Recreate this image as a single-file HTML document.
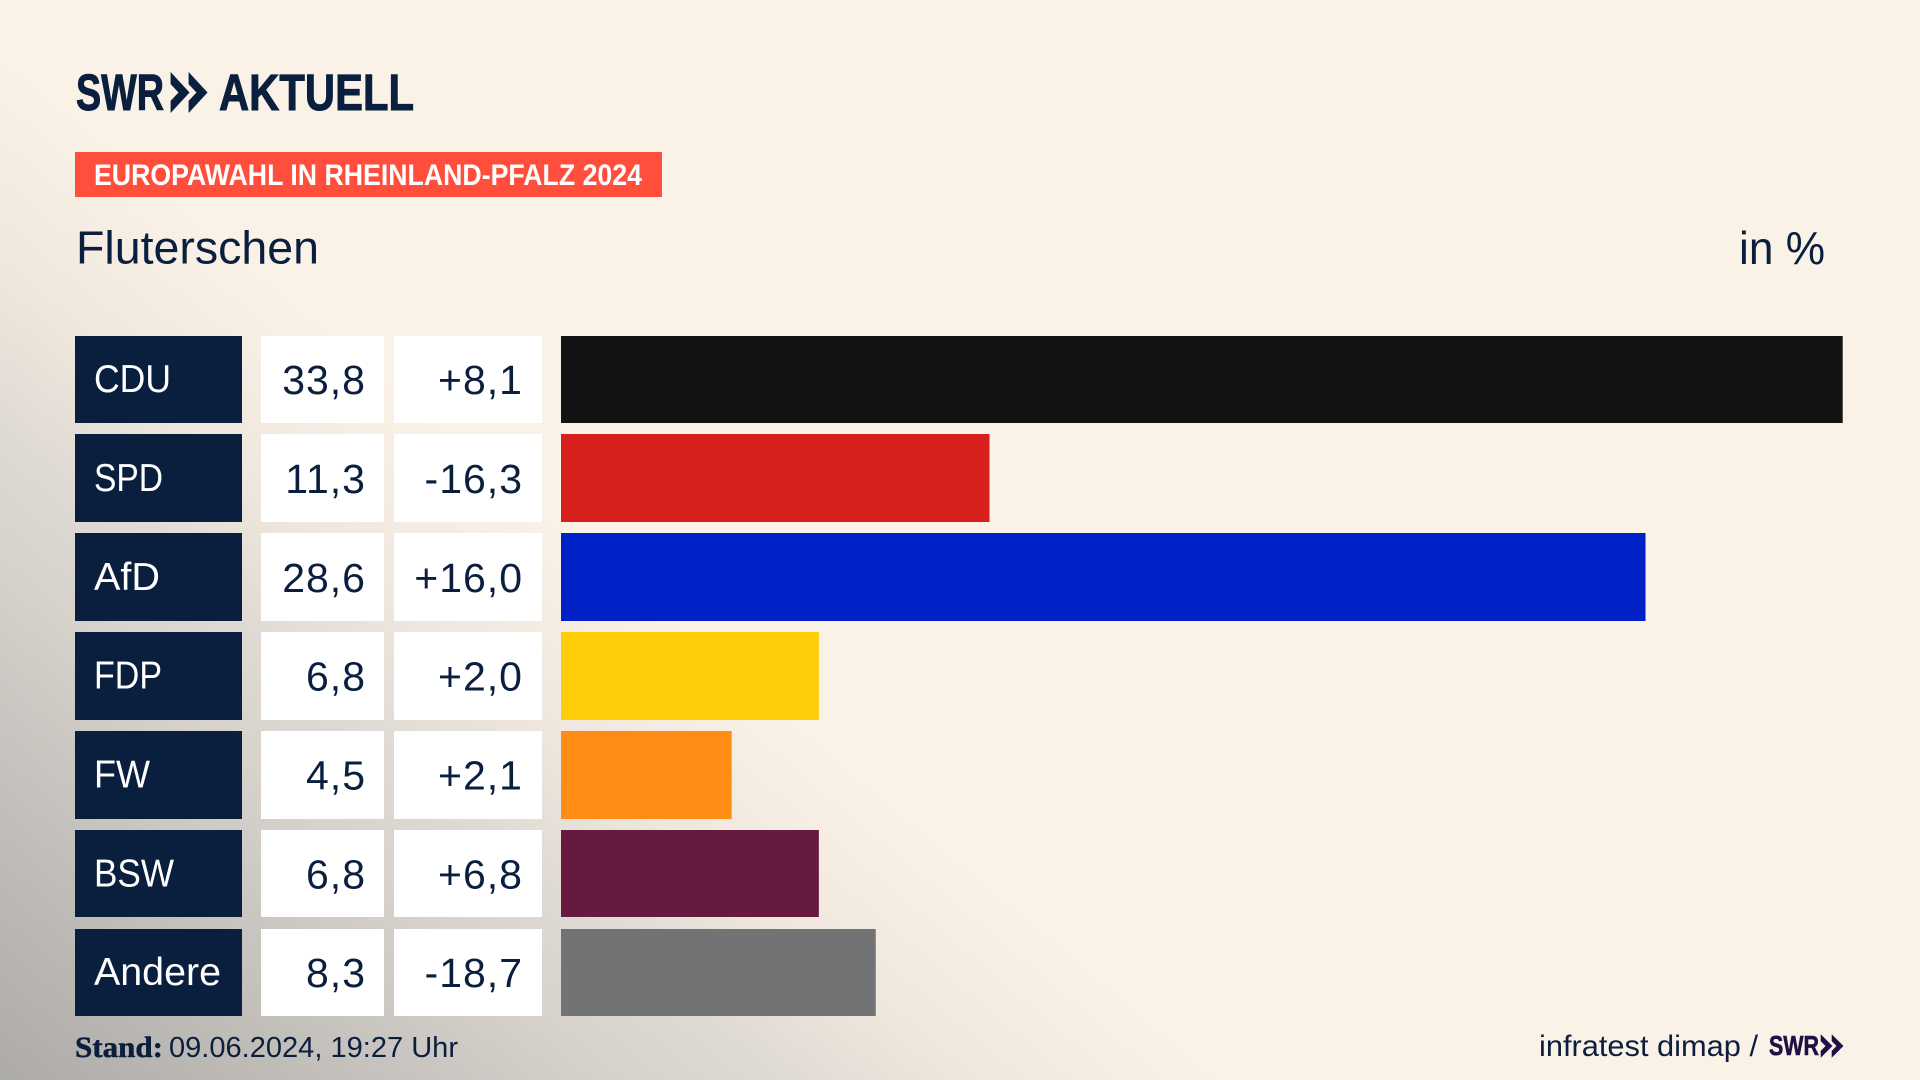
<!DOCTYPE html>
<html lang="de">
<head>
<meta charset="utf-8">
<title>Europawahl in Rheinland-Pfalz 2024 – Fluterschen</title>
<style>
html,body{margin:0;padding:0;width:1920px;height:1080px;overflow:hidden;background:#faf1e7}
#bg{position:absolute;left:0;top:0;width:1920px;height:1080px;
background:linear-gradient(220deg,#faf1e7 0%,#faf1e7 62%,#efe7dd 70%,#ded9d3 76%,#d6d1cb 81%,#cac6c1 86%,#adaba8 100%);}
svg{position:absolute;left:0;top:0;font-family:"Liberation Sans",sans-serif}
</style>
</head>
<body>
<div id="bg"></div>
<svg id="chart" width="1920" height="1080" viewBox="0 0 1920 1080">
  <g fill="#0a1f3e" stroke="#0a1f3e">
    <text x="76" y="110" font-size="51" font-weight="700" stroke-width="1" textLength="88" lengthAdjust="spacingAndGlyphs">SWR</text>
    <polygon points="171,73 189,92.5 171,112 171,101 179,92.5 171,84" stroke-width="0.8"></polygon>
    <polygon points="189,73 207,92.5 189,112 189,101 197,92.5 189,84" stroke-width="0.8"></polygon>
    <text x="219" y="110" font-size="51" font-weight="700" stroke-width="1" textLength="195" lengthAdjust="spacingAndGlyphs">AKTUELL</text>
  </g>
  <rect x="75" y="152" width="587" height="45" fill="#ff4f3c"></rect>
  <text x="94" y="185" font-size="30" font-weight="700" fill="#fff" textLength="548" lengthAdjust="spacingAndGlyphs">EUROPAWAHL IN RHEINLAND-PFALZ 2024</text>
  <text x="76" y="263.5" font-size="46" fill="#0a1f3e" textLength="243" lengthAdjust="spacingAndGlyphs">Fluterschen</text>
  <text x="1739" y="264" font-size="46" fill="#0a1f3e" textLength="86" lengthAdjust="spacingAndGlyphs">in %</text>
  <g id="rows"></g>
  <text x="75" y="1057" font-family="Liberation Serif, serif" font-size="30" font-weight="700" fill="#0a1f3e" stroke="#0a1f3e" stroke-width="0.5" textLength="88" lengthAdjust="spacingAndGlyphs">Stand:</text>
  <text x="169" y="1057" font-size="29" fill="#0a1f3e" textLength="289" lengthAdjust="spacingAndGlyphs">09.06.2024, 19:27 Uhr</text>
  <text x="1539" y="1056" font-size="30" fill="#0a1f3e" textLength="219" lengthAdjust="spacingAndGlyphs">infratest dimap /</text>
  <g fill="#1f1046" stroke="#1f1046">
    <text x="1769" y="1055" font-size="28" font-weight="700" stroke-width="0.6" textLength="50" lengthAdjust="spacingAndGlyphs">SWR</text>
    <polygon points="1821,1035 1832,1046 1821,1057 1821,1051 1826,1046 1821,1041" stroke-width="0.6"></polygon>
    <polygon points="1832,1035 1843,1046 1832,1057 1832,1051 1837,1046 1832,1041" stroke-width="0.6"></polygon>
  </g>
</svg>
<script>
const parties = ["CDU", "SPD", "AfD", "FDP", "FW", "BSW", "Andere"];
const shares = [33.8, 11.3, 28.6, 6.8, 4.5, 6.8, 8.3];
const changes = [8.1, -16.3, 16.0, 2.0, 2.1, 6.8, -18.7];

const partyColors = {CDU:"#131313", SPD:"#d7201d", AfD:"#0021c8", FDP:"#ffce09", FW:"#ff8d15", BSW:"#671a3f", Andere:"#727374"};
const nameWidths = {CDU:77, SPD:69, AfD:66, FDP:68, FW:56, BSW:80, Andere:127};

const NS = "http://www.w3.org/2000/svg";
const rowsGroup = document.getElementById("rows");
function xScale(v) { return v * 37.92; }
function yRow(i) { return 336.1 + i * 98.83; }
function fmtShare(v) { return v.toFixed(1).replace(".", ","); }
function fmtChange(v) { return (v > 0 ? "+" : "") + v.toFixed(1).replace(".", ","); }
function mk(tag, attrs, text) {
  const el = document.createElementNS(NS, tag);
  for (const k in attrs) el.setAttribute(k, attrs[k]);
  if (text !== undefined) el.textContent = text;
  return el;
}
parties.forEach(function (party, i) {
  const raw = yRow(i);
  const top = Math.floor(raw);
  const H = Math.floor(raw + 87.7) - top;
  const key = party.toLowerCase();

  const nameBox = mk("rect", {x: 75, y: top, width: 167, height: H, fill: "#0a1f3e"});
  
  
  rowsGroup.appendChild(nameBox);

  const nameAttrs = {x: 94, y: raw + 56, "font-size": 39, fill: "#fff"};
  if (nameWidths[party]) { nameAttrs.textLength = nameWidths[party]; nameAttrs.lengthAdjust = "spacingAndGlyphs"; }
  const nameText = mk("text", nameAttrs, party);
  
  
  rowsGroup.appendChild(nameText);

  const shareBox = mk("rect", {x: 261, y: top, width: 123, height: H, fill: "#fff"});
  
  
  rowsGroup.appendChild(shareBox);

  const shareText = mk("text", {x: 366, y: raw + 58, "font-size": 41, "letter-spacing": 1, fill: "#0a1f3e", "text-anchor": "end"}, fmtShare(shares[i]));
  
  
  rowsGroup.appendChild(shareText);

  const changeBox = mk("rect", {x: 394, y: top, width: 148, height: H, fill: "#fff"});
  
  
  rowsGroup.appendChild(changeBox);

  const changeText = mk("text", {x: 523, y: raw + 58, "font-size": 41, "letter-spacing": 1, fill: "#0a1f3e", "text-anchor": "end"}, fmtChange(changes[i]));
  
  
  rowsGroup.appendChild(changeText);

  const bar = mk("rect", {x: 561, y: top, width: xScale(shares[i]), height: H, fill: partyColors[party] || "#727374"});
  
  
  rowsGroup.appendChild(bar);
});
</script>
</body>
</html>
